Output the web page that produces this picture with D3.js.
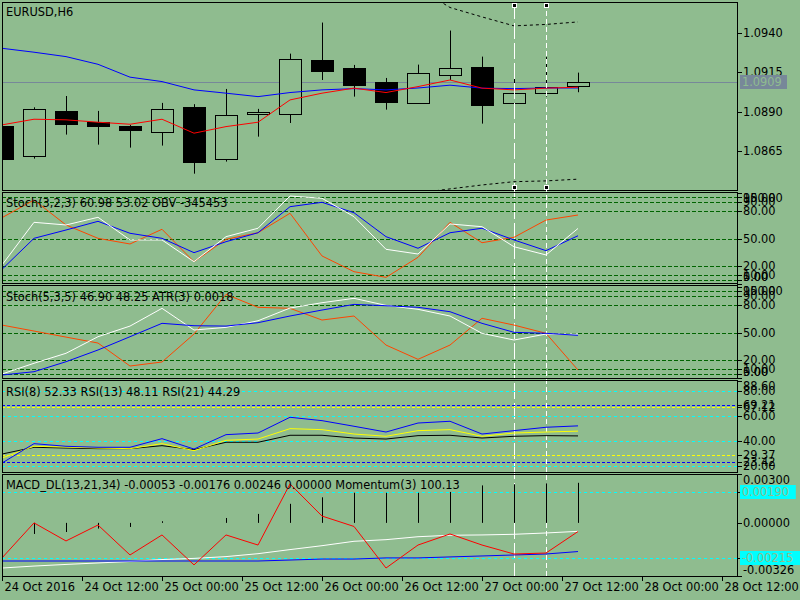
<!DOCTYPE html>
<html><head><meta charset="utf-8">
<script src="https://cdn.jsdelivr.net/npm/d3@7"></script>
<style>
body{margin:0;background:#8FBC8F}
svg{display:block}
text{font-family:"DejaVu Sans",sans-serif;font-size:11.4px;fill:#000}
</style>
</head><body>
<svg id="c" width="800" height="600"></svg>
<script>
// ---------------- DATA ----------------
const symbolTitle = "EURUSD,H6";
const open  = [1.08809,1.08616,1.08905,1.08835,1.08811,1.08773,1.08930,1.08597,1.08884,1.08884,1.09230,1.09179,1.09092,1.08954,1.09132,1.09185,1.08954,1.09018,1.09062];
const high  = [1.08812,1.08928,1.09000,1.08905,1.08815,1.08956,1.08948,1.09045,1.08918,1.09270,1.09468,1.09198,1.09115,1.09200,1.09417,1.09251,1.09111,1.09249,1.09149];
const low   = [1.08598,1.08601,1.08754,1.08690,1.08671,1.08684,1.08505,1.08582,1.08741,1.08828,1.09102,1.08996,1.08913,1.08954,1.09102,1.08824,1.08922,1.08996,1.09024];
const close = [1.08601,1.08918,1.08824,1.08811,1.08786,1.08918,1.08582,1.08879,1.08898,1.09236,1.09162,1.09072,1.08964,1.09147,1.09179,1.08945,1.09020,1.09056,1.09090];
const maSlow = [1.09304,1.09279,1.09251,1.09202,1.09120,1.09092,1.09039,1.09018,1.08996,1.09022,1.09039,1.09047,1.09039,1.09051,1.09069,1.09050,1.09047,1.09051,1.09051];
const maFast = [1.08816,1.08852,1.08848,1.08833,1.08820,1.08852,1.08763,1.08805,1.08833,1.08975,1.09018,1.09050,1.09022,1.09060,1.09102,1.09050,1.09039,1.09050,1.09056];
const bandUpper = [null,null,null,null,null,null,null,null,null,null,null,null,null,1.09689,1.09564,1.09504,1.09447,1.09456,1.09472];
const bandLower = [null,null,null,null,null,null,null,null,null,null,null,null,null,1.08382,1.08408,1.08433,1.08454,1.08459,1.08470];
const currentPrice = 1.0909;
const priceTicks = [1.0940,1.0915,1.0890,1.0865];
const markerBars = [16,17];

const stoch1Main   = [21,67.7,64.8,73.2,48.4,48.4,24.6,52,61.2,96.5,94,73.9,38.2,33,65.9,62.9,41,32,60.98];
const stoch1Signal = [16.3,50.2,59.3,68.8,55.7,50.2,34.5,46.5,56.3,84.8,89.6,78.2,52,39.3,56.3,61.2,48.4,36.7,53.02];
const obvScaled    = [72.8,92.1,64.8,50.2,44,60.1,24.6,49.1,56.3,77.6,30.9,13.7,7.5,29.4,67.7,45.4,51.3,70.2,75.7];
const stoch2Main   = [4.7,16.4,27.3,45.4,57,76.4,52.7,55.6,62.8,76.7,82.5,87.3,79.6,75.3,68,49.1,41.8,48.3,48.25];
const stoch2Signal = [3.6,7.2,18.1,30.9,45.4,60,57.4,57,60.7,68,74.5,80.7,79.2,77.5,72.7,60,50.2,49.1,46.9];
const atrScaled    = [58.1,51.6,45,38.5,13.4,17.8,48.3,91.6,77.5,76.4,63.6,68,36.3,20.7,36.3,65.5,58.1,49.1,9];
const stochLevels  = [95,90,80,50,20,10,5];
const stochLabels  = ["100.00","95.00","90.00","80.00","50.00","20.00","10.00","5.00","0.00"];
const stochLabelVals = [100,95,90,80,50,20,10,5,0];

const rsi8  = [22.6,38.1,36,35.2,35.2,42.1,33.8,45.3,46.6,59.2,56.5,52,47.4,54.6,56,45.8,48.5,51.2,52.33];
const rsi13 = [26.6,36,35.4,34.6,34.1,38.1,32.5,40.8,41.8,50.1,49.3,45.8,44,48.5,49.3,44,46.6,47.4,48.11];
const rsi21 = [29.8,35.2,34.6,34.1,34.1,36.5,33.3,39.2,39.2,44.8,44.8,42.6,41.8,44.5,44.8,42.6,44,44.5,44.29];
const rsiCyanLevels = [80,60,40,20];
const rsiBlueLevels = [69.21,23.42];
const rsiYellowLevels = [67.12,29.37];
const rsiLabelVals = [88.6,80,69.21,67.12,60,40,29.37,23.42,20];

const macdRed   = [-0.00215,0,-0.00111,-0.00013,-0.00197,-0.00074,-0.00258,-0.00074,-0.00136,0.00239,0.00042,-0.00022,-0.00277,-0.00136,-0.00068,-0.00136,-0.00191,-0.00185,-0.00053];
const macdWhite = [-0.00277,-0.00265,-0.00255,-0.00246,-0.00237,-0.00225,-0.00218,-0.00207,-0.00189,-0.00164,-0.0014,-0.00113,-0.00103,-0.00085,-0.00076,-0.00074,-0.0007,-0.00062,-0.00052];
const macdBlue  = [-0.00234,-0.00234,-0.00234,-0.00234,-0.00234,-0.00234,-0.00234,-0.00234,-0.00234,-0.00228,-0.00222,-0.00222,-0.00215,-0.00215,-0.00209,-0.00203,-0.00197,-0.00191,-0.00176];
const macdHist  = [0,-0.00068,-0.00056,-0.00035,-0.00025,0.0001,0,0.0003,0.00055,0.00117,0.00157,0.00185,0.00185,0.00185,0.0019,0.0023,0.00237,0.00243,0.00246];
const macdLevels = [0.0019,-0.00215];
const macdAxisVals = [0.003,0,-0.00326];

const timeTickLabels = ["24 Oct 2016","24 Oct 12:00","25 Oct 00:00","25 Oct 12:00","26 Oct 00:00","26 Oct 12:00","27 Oct 00:00","27 Oct 12:00","28 Oct 00:00","28 Oct 12:00"];
const titles = {
  s1: "Stoch(3,2,3) 60.98 53.02 OBV -345453",
  s2: "Stoch(5,3,5) 46.90 48.25 ATR(3) 0.0018",
  rsi: "RSI(8) 52.33 RSI(13) 48.11 RSI(21) 44.29",
  macd: "MACD_DL(13,21,34) -0.00053 -0.00176 0.00246 0.00000 Momentum(3) 100.13"
};

// ---------------- DRAW ----------------
const BG = "#8FBC8F";
const svg = d3.select("#c");
svg.append("rect").attr("width",800).attr("height",600).attr("fill",BG);
const L = 2, R = 737;
const x = d3.scaleLinear().domain([0,18]).range([2,578]);
const xTime = d3.scaleUtc().domain([Date.UTC(2016,9,24,0), Date.UTC(2016,9,28,12)]).range([2,722]);
const crisp = v => Math.round(v) + 0.5;

function panel(id, top, bottom, domain, range){
  const y = d3.scaleLinear().domain(domain).range(range);
  svg.append("clipPath").attr("id","clip-"+id).append("rect")
    .attr("x",L+1).attr("y",top+1).attr("width",R-L-1).attr("height",bottom-top-1);
  const g = svg.append("g").attr("clip-path",`url(#clip-${id})`);
  svg.append("rect").attr("x",L+.5).attr("y",top+.5)
    .attr("width",R-L).attr("height",bottom-top).attr("fill","none").attr("stroke","#000");
  return {id,y,g,top,bottom};
}
function hLine(p, v, color, dash){
  const yy = crisp(p.y(v));
  p.g.append("line").attr("x1",L).attr("x2",R).attr("y1",yy).attr("y2",yy)
    .attr("stroke",color).attr("stroke-width",1).attr("stroke-dasharray",dash||null);
}
function series(p, data, color){
  const line = d3.line().defined(d=>d!=null).x((d,i)=>x(i)).y(d=>p.y(d));
  p.g.append("path").datum(data).attr("d",line).attr("fill","none")
    .attr("stroke",color).attr("stroke-width",1);
}
function axisLabels(p, vals, texts){
  vals.forEach((v,i)=>{
    const yy = p.y(v);
    svg.append("line").attr("x1",R).attr("x2",R+5).attr("y1",crisp(yy)).attr("y2",crisp(yy)).attr("stroke","#000");
    const ly = Math.max(p.top+6, Math.min(p.bottom-6, yy));
    svg.append("text").attr("x",R+6).attr("y",ly+4).text(texts[i]);
  });
}
function title(p, txt, cy){
  svg.append("text").attr("x",6).attr("y",cy+4).text(txt);
}

// ---- main panel
const pm = panel("main", 2, 190, [1.08401,1.09599], [190,2]);
pm.g.append("line").attr("x1",L).attr("x2",R).attr("y1",crisp(pm.y(currentPrice))).attr("y2",crisp(pm.y(currentPrice)))
  .attr("stroke","#778899");
const candles = pm.g.selectAll("g.c").data(d3.range(open.length)).join("g");
candles.append("line")
  .attr("x1",i=>crisp(x(i))).attr("x2",i=>crisp(x(i)))
  .attr("y1",i=>pm.y(high[i])).attr("y2",i=>pm.y(low[i]))
  .attr("stroke","#000");
candles.append("rect")
  .attr("x",i=>Math.round(x(i))-11+.5)
  .attr("y",i=>Math.round(pm.y(Math.max(open[i],close[i])))+.5)
  .attr("width",22)
  .attr("height",i=>Math.max(1,Math.round(Math.abs(pm.y(open[i])-pm.y(close[i])))))
  .attr("fill",i=>close[i]>=open[i]?BG:"#000")
  .attr("stroke","#000");
series(pm, maSlow, "#0000FF");
series(pm, maFast, "#FF0000");
[bandUpper, bandLower].forEach(b=>{
  pm.g.append("path").datum(b)
    .attr("d",d3.line().defined(d=>d!=null).x((d,i)=>x(i)).y(d=>pm.y(d)))
    .attr("fill","none").attr("stroke","#000").attr("stroke-dasharray","3,3");
});
axisLabels(pm, priceTicks, priceTicks.map(v=>v.toFixed(4)));
title(pm, symbolTitle, 12);

// ---- vertical marker lines (under sub-window indicators)
markerBars.forEach((b,k)=>{
  const xx = crisp(x(b));
  svg.append("line").attr("x1",xx).attr("x2",xx).attr("y1",3).attr("y2",576)
    .attr("stroke","#FFFFFF").attr("stroke-dasharray",k===0?"16,4":"5,3");
  [5,187].forEach(cy=>{
    svg.append("rect").attr("x",Math.round(x(b))-2+.5).attr("y",cy-2+.5).attr("width",4).attr("height",4)
      .attr("fill","#000").attr("stroke","#FFFFFF");
  });
});

// ---- stoch 1
const ps1 = panel("s1", 192, 283, [0,100], [284.2,192.8]);
stochLevels.forEach(v=>hLine(ps1, v, "#006400", "4,2"));
series(ps1, obvScaled, "#FF4500");
series(ps1, stoch1Signal, "#0000FF");
series(ps1, stoch1Main, "#FFFFFF");
axisLabels(ps1, stochLabelVals, stochLabels);
title(ps1, titles.s1, 203);

// ---- stoch 2
const ps2 = panel("s2", 285, 378, [0,100], [378.3,286.7]);
stochLevels.forEach(v=>hLine(ps2, v, "#006400", "4,2"));
series(ps2, atrScaled, "#FF4500");
series(ps2, stoch2Main, "#FFFFFF");
series(ps2, stoch2Signal, "#0000FF");
axisLabels(ps2, stochLabelVals, stochLabels);
title(ps2, titles.s2, 297);

// ---- RSI
const pr = panel("rsi", 380, 472, [15.2,88.6], [472.3,380.5]);
rsiCyanLevels.forEach(v=>hLine(pr, v, "#00FFFF", "3,3"));
rsiBlueLevels.forEach(v=>hLine(pr, v, "#0000FF", "3,2"));
rsiYellowLevels.forEach(v=>hLine(pr, v, "#FFFF00", "3,2"));
series(pr, rsi21, "#000000");
series(pr, rsi13, "#FFFF00");
series(pr, rsi8, "#0000FF");
axisLabels(pr, rsiLabelVals, rsiLabelVals.map(v=>v.toFixed(2)));
title(pr, titles.rsi, 392);

// ---- MACD
const pd = panel("macd", 474, 576, [-0.00326,0.003], [576,474]);
macdLevels.forEach(v=>hLine(pd, v, "#00FFFF", "3,3"));
pd.g.selectAll("line.h").data(macdHist).join("line")
  .attr("x1",(d,i)=>crisp(x(i))).attr("x2",(d,i)=>crisp(x(i)))
  .attr("y1",pd.y(0)).attr("y2",d=>pd.y(d))
  .attr("stroke","#000").attr("stroke-width",1);
series(pd, macdWhite, "#FFFFFF");
series(pd, macdBlue, "#0000FF");
series(pd, macdRed, "#FF0000");
axisLabels(pd, macdAxisVals, macdAxisVals.map(v=>v.toFixed(5)));
title(pd, titles.macd, 485);
macdLevels.forEach(v=>{
  const yy = pd.y(v), t = v.toFixed(5);
  svg.append("line").attr("x1",R).attr("x2",R+5).attr("y1",crisp(yy)).attr("y2",crisp(yy)).attr("stroke","#000");
  svg.append("rect").attr("x",740).attr("y",Math.round(yy)-7).attr("width",t.length*7.4+4).attr("height",14).attr("fill","#00FFFF");
  svg.append("text").attr("x",742).attr("y",yy+4).style("fill",BG).text(t);
});

// ---- current price box
{
  const yy = pm.y(currentPrice);
  svg.append("rect").attr("x",740).attr("y",Math.round(yy)-7).attr("width",47).attr("height",14).attr("fill","#778899");
  svg.append("text").attr("x",742).attr("y",yy+4).style("fill",BG).text(currentPrice.toFixed(4));
}

// ---- time axis
const tickDates = xTime.ticks(d3.utcHour.every(12));
tickDates.forEach((d,i)=>{
  const xx = crisp(xTime(d));
  svg.append("line").attr("x1",xx).attr("x2",xx).attr("y1",577).attr("y2",581).attr("stroke","#000");
  svg.append("text").attr("x",xx+2).attr("y",591).text(timeTickLabels[i]);
});
</script>
</body></html>
